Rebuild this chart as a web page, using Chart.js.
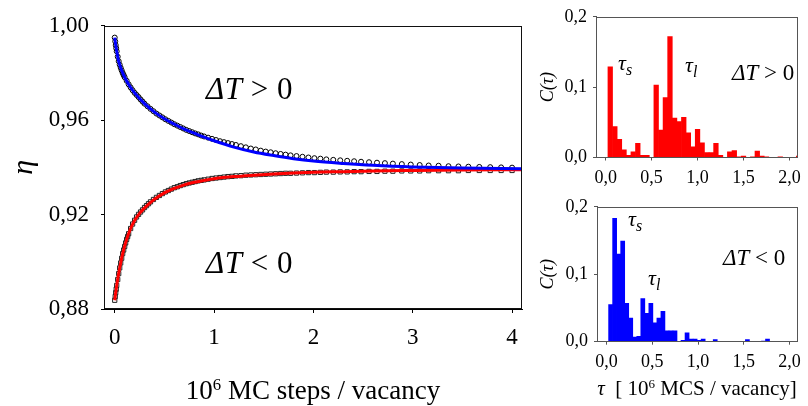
<!DOCTYPE html>
<html>
<head>
<meta charset="utf-8">
<script src="https://cdn.jsdelivr.net/npm/chart.js@4/dist/chart.umd.min.js"></script>
<style>
  body { margin: 0; background: #fff; }
  #wrap { position: relative; width: 808px; height: 406px; overflow: hidden; font-family: 'Liberation Serif', serif; color: #000; }
  canvas { position: absolute; }
  .lbl { position: absolute; white-space: pre; line-height: 1; }
  .sup { font-size: 0.62em; vertical-align: 0.55em; }
  .sub { font-size: 0.72em; vertical-align: -0.3em; font-style: italic; }
</style>
</head>
<body>
<div id="wrap">
  <canvas id="mainChart" width="560" height="406" style="left:0;top:0"></canvas>
  <canvas id="histUp" width="278" height="200" style="left:530px;top:0"></canvas>
  <canvas id="histDown" width="278" height="216" style="left:530px;top:190px"></canvas>

  <div class="lbl" style="left:206px;top:73px;font-size:31px;letter-spacing:0.5px"><i>ΔT</i> &gt; 0</div>
  <div class="lbl" style="left:206px;top:247px;font-size:31px;letter-spacing:0.5px"><i>ΔT</i> &lt; 0</div>
  <div class="lbl" style="left:163px;top:377px;width:300px;text-align:center;font-size:27px">10<span class="sup">6</span> MC steps / vacancy</div>

  <div class="lbl" style="left:618px;top:52px;font-size:22px"><i>τ</i><span class="sub">s</span></div>
  <div class="lbl" style="left:685px;top:54px;font-size:22px"><i>τ</i><span class="sub">l</span></div>
  <div class="lbl" style="left:732px;top:61px;font-size:23px"><i>ΔT</i> &gt; 0</div>

  <div class="lbl" style="left:628px;top:208px;font-size:22px"><i>τ</i><span class="sub">s</span></div>
  <div class="lbl" style="left:648px;top:267px;font-size:22px"><i>τ</i><span class="sub">l</span></div>
  <div class="lbl" style="left:723px;top:246px;font-size:23px"><i>ΔT</i> &lt; 0</div>
  <div class="lbl" style="left:587px;top:377px;width:220px;text-align:center;font-size:21px"><i>τ</i>  [ 10<span class="sup">6</span> MCS / vacancy]</div>
</div>

<script>
// Main panel: order parameter vs MC time
const X_TICKS = [0, 1, 2, 3, 4];
const Y_TICKS = [0.88, 0.92, 0.96, 1.00];

// fit curves
const FIT_X_UP = [0, 0.01, 0.02, 0.035, 0.05, 0.075, 0.1, 0.15, 0.2, 0.3, 0.4, 0.5, 0.6, 0.7, 0.8, 0.9, 1.0, 1.2, 1.4, 1.6, 1.8, 2.0, 2.3, 2.6, 3.0, 3.5, 4.1];
const FIT_UP = [0.9950, 0.9918, 0.9892, 0.9858, 0.9835, 0.9805, 0.9782, 0.9745, 0.9716, 0.9670, 0.9634, 0.9606, 0.9583, 0.9562, 0.9545, 0.9528, 0.9513, 0.9486, 0.9465, 0.9450, 0.9437, 0.9427, 0.9417, 0.9409, 0.9402, 0.9397, 0.9394];

const FIT_X_DOWN = [0, 0.01, 0.02, 0.035, 0.05, 0.08, 0.12, 0.16, 0.2, 0.25, 0.3, 0.35, 0.4, 0.5, 0.6, 0.7, 0.8, 0.9, 1.0, 1.2, 1.4, 1.6, 1.8, 2.0, 2.3, 2.6, 3.0, 3.5, 4.1];
const FIT_DOWN = [0.8837, 0.8870, 0.8900, 0.8940, 0.8974, 0.9035, 0.9095, 0.9141, 0.9175, 0.9205, 0.9228, 0.9248, 0.9265, 0.9292, 0.9311, 0.9326, 0.9337, 0.9345, 0.9352, 0.9361, 0.9367, 0.9372, 0.9376, 0.9379, 0.9382, 0.9385, 0.9387, 0.9389, 0.9390];

// MC data, heating (circles)
const MC_X_UP = [0, 0.005, 0.01, 0.015, 0.02, 0.03, 0.04, 0.05, 0.06, 0.07, 0.08, 0.09, 0.1, 0.12, 0.14, 0.16, 0.18, 0.2, 0.22, 0.24, 0.26, 0.28, 0.3, 0.33, 0.36, 0.39, 0.42, 0.45, 0.48, 0.51, 0.54, 0.57, 0.6, 0.63, 0.66, 0.69, 0.72, 0.75, 0.78, 0.81, 0.84, 0.87, 0.9, 0.94, 0.98, 1.02, 1.06, 1.1, 1.14, 1.18, 1.22, 1.27, 1.32, 1.37, 1.42, 1.47, 1.52, 1.57, 1.62, 1.67, 1.72, 1.77, 1.83, 1.89, 1.95, 2.01, 2.07, 2.13, 2.2, 2.27, 2.34, 2.41, 2.48, 2.56, 2.64, 2.72, 2.8, 2.89, 2.98, 3.07, 3.16, 3.26, 3.36, 3.46, 3.56, 3.67, 3.78, 3.89, 4.0];
const MC_UP = [0.9950, 0.9934, 0.9918, 0.9905, 0.9892, 0.9869, 0.9850, 0.9835, 0.9822, 0.9811, 0.9800, 0.9791, 0.9782, 0.9767, 0.9752, 0.9739, 0.9727, 0.9716, 0.9707, 0.9698, 0.9688, 0.9679, 0.9670, 0.9659, 0.9648, 0.9638, 0.9628, 0.9620, 0.9612, 0.9604, 0.9597, 0.9590, 0.9583, 0.9577, 0.9571, 0.9565, 0.9559, 0.9554, 0.9549, 0.9544, 0.9540, 0.9535, 0.9531, 0.9526, 0.9521, 0.9516, 0.9511, 0.9507, 0.9503, 0.9499, 0.9495, 0.9490, 0.9485, 0.9480, 0.9476, 0.9471, 0.9467, 0.9464, 0.9460, 0.9457, 0.9454, 0.9451, 0.9448, 0.9445, 0.9442, 0.9439, 0.9437, 0.9434, 0.9432, 0.9430, 0.9428, 0.9426, 0.9424, 0.9422, 0.9420, 0.9418, 0.9416, 0.9414, 0.9412, 0.9410, 0.9408, 0.9407, 0.9405, 0.9404, 0.9403, 0.9402, 0.9401, 0.9400, 0.9399];

// MC data, cooling (squares)
const MC_X_DOWN = [0, 0.005, 0.01, 0.015, 0.02, 0.03, 0.04, 0.05, 0.06, 0.07, 0.08, 0.09, 0.1, 0.11, 0.12, 0.13, 0.14, 0.16, 0.18, 0.2, 0.22, 0.24, 0.26, 0.28, 0.3, 0.32, 0.34, 0.36, 0.39, 0.42, 0.45, 0.48, 0.51, 0.54, 0.57, 0.6, 0.63, 0.66, 0.69, 0.72, 0.75, 0.78, 0.81, 0.84, 0.87, 0.9, 0.94, 0.98, 1.02, 1.06, 1.1, 1.14, 1.18, 1.22, 1.27, 1.32, 1.37, 1.42, 1.47, 1.52, 1.57, 1.62, 1.67, 1.72, 1.77, 1.83, 1.89, 1.95, 2.01, 2.07, 2.13, 2.2, 2.27, 2.34, 2.41, 2.48, 2.56, 2.64, 2.72, 2.8, 2.89, 2.98, 3.07, 3.16, 3.26, 3.36, 3.46, 3.56, 3.67, 3.78, 3.89, 4.0];
const MC_DOWN = [0.8837, 0.8853, 0.8869, 0.8884, 0.8900, 0.8925, 0.8950, 0.8974, 0.8995, 0.9015, 0.9035, 0.9050, 0.9065, 0.9080, 0.9095, 0.9107, 0.9119, 0.9141, 0.9160, 0.9176, 0.9190, 0.9201, 0.9211, 0.9220, 0.9230, 0.9238, 0.9246, 0.9254, 0.9264, 0.9273, 0.9281, 0.9289, 0.9296, 0.9302, 0.9308, 0.9314, 0.9318, 0.9323, 0.9327, 0.9331, 0.9334, 0.9337, 0.9340, 0.9343, 0.9345, 0.9347, 0.9350, 0.9353, 0.9355, 0.9357, 0.9359, 0.9361, 0.9362, 0.9364, 0.9365, 0.9367, 0.9368, 0.9369, 0.9370, 0.9371, 0.9372, 0.9373, 0.9374, 0.9375, 0.9375, 0.9376, 0.9377, 0.9378, 0.9378, 0.9379, 0.9380, 0.9380, 0.9381, 0.9381, 0.9382, 0.9382, 0.9383, 0.9383, 0.9384, 0.9384, 0.9385, 0.9385, 0.9385, 0.9386, 0.9386, 0.9386, 0.9386, 0.9387, 0.9387, 0.9387, 0.9387, 0.9387];

// Histograms C(tau)
const TAU_TICKS = [0, 0.5, 1.0, 1.5, 2.0];
const C_TICKS = [0, 0.1, 0.2];

const TAU_UP = [0.05, 0.10, 0.15, 0.20, 0.25, 0.30, 0.35, 0.40, 0.45, 0.50, 0.55, 0.60, 0.65, 0.70, 0.75, 0.80, 0.85, 0.90, 0.95, 1.00, 1.05, 1.10, 1.15, 1.20, 1.25, 1.30, 1.35, 1.40, 1.45, 1.50, 1.55, 1.60, 1.65, 1.70, 1.75, 1.80, 1.85, 1.90, 1.95, 2.00, 2.05, 2.10];
const C_UP = [0.129, 0.044, 0.026, 0.011, 0.003, 0.008, 0.020, 0.003, 0.003, 0, 0.103, 0.039, 0.085, 0.172, 0.056, 0.051, 0.057, 0.035, 0.015, 0.040, 0.021, 0.007, 0.007, 0.020, 0.003, 0, 0.008, 0.010, 0.001, 0.002, 0, 0.001, 0.009, 0.002, 0.001, 0, 0, 0.001, 0, 0, 0, 0.002];

const TAU_DOWN = [0.044, 0.088, 0.132, 0.176, 0.22, 0.264, 0.308, 0.352, 0.396, 0.44, 0.484, 0.528, 0.572, 0.616, 0.66, 0.704, 0.748, 0.792, 0.836, 0.88, 0.924, 0.968, 1.012, 1.056, 1.1, 1.144, 1.188, 1.232, 1.276, 1.32, 1.364, 1.408, 1.452, 1.496, 1.54, 1.584, 1.628, 1.672, 1.716, 1.76];
const C_DOWN = [0.055, 0.183, 0.130, 0.149, 0.057, 0.035, 0.007, 0.008, 0.064, 0.042, 0.057, 0.028, 0.035, 0.045, 0.016, 0.016, 0.016, 0, 0.002, 0.013, 0.004, 0.004, 0.002, 0.004, 0, 0, 0.003, 0, 0, 0, 0, 0, 0, 0, 0.003, 0, 0, 0, 0.001, 0.004];

const FONT = "'Liberation Serif', 'Times New Roman', serif";
const pts = (xs, ys) => xs.map((x, i) => ({ x: x, y: ys[i] }));
const fixedTicks = arr => scale => { scale.ticks = arr.map(v => ({ value: v })); };
const comma = d => v => v.toFixed(d).replace('.', ',');

// box around the plot area
const framePlugin = {
    id: 'frame',
    afterDatasetsDraw(chart, args, opts) {
        const a = chart.chartArea;
        const ctx = chart.ctx;
        ctx.save();
        ctx.strokeStyle = opts.color || '#000';
        ctx.lineWidth = 1;
        ctx.strokeRect(Math.round(a.left) + 0.5, Math.round(a.top) + 0.5,
            Math.round(a.right - a.left) - 1, Math.round(a.bottom - a.top) - 1);
        ctx.restore();
    }
};

Chart.defaults.font.family = FONT;
Chart.defaults.color = '#000';

// 1. main chart
new Chart(document.getElementById('mainChart'), {
    type: 'scatter',
    data: {
        datasets: [
            {
                data: pts(FIT_X_UP, FIT_UP), showLine: true, borderColor: '#0000ff', borderWidth: 3,
                pointRadius: 0, cubicInterpolationMode: 'monotone'
            },
            {
                data: pts(FIT_X_DOWN, FIT_DOWN), showLine: true, borderColor: '#ff0000', borderWidth: 3,
                pointRadius: 0, cubicInterpolationMode: 'monotone'
            },
            {
                data: pts(MC_X_UP, MC_UP), pointStyle: 'circle', pointRadius: 2.5, pointBorderWidth: 1,
                pointBorderColor: '#000', pointBackgroundColor: 'rgba(0,0,0,0)'
            },
            {
                data: pts(MC_X_DOWN, MC_DOWN), pointStyle: 'rect', pointRadius: 3, pointBorderWidth: 1,
                pointBorderColor: '#222', pointBackgroundColor: 'rgba(0,0,0,0)'
            }
        ]
    },
    options: {
        responsive: false,
        animation: false,
        layout: { padding: { left: 0, right: 38, top: 17, bottom: 0 } },
        plugins: { legend: { display: false }, tooltip: { enabled: false }, frame: { color: '#111' } },
        scales: {
            x: {
                type: 'linear', min: -0.108, max: 4.1,
                afterBuildTicks: fixedTicks(X_TICKS),
                afterFit: s => { s.height = 97; },
                border: { display: true, color: '#000' },
                grid: { drawOnChartArea: false, tickLength: 4, color: '#000' },
                ticks: { font: { size: 23 }, padding: 11, maxRotation: 0, callback: v => String(v) }
            },
            y: {
                min: 0.88, max: 1.0,
                afterBuildTicks: fixedTicks(Y_TICKS),
                afterFit: s => { s.width = 104; },
                border: { display: true, color: '#000' },
                grid: { drawOnChartArea: false, tickLength: 3, color: '#000' },
                ticks: { font: { size: 23 }, padding: 12, callback: comma(2) },
                title: { display: true, text: 'η', font: { size: 30, style: 'italic' }, padding: { top: 6 } }
            }
        }
    },
    plugins: [framePlugin]
});

// 2. histograms
function makeHist(id, tau, c, color, pad, yWidth, xHeight) {
    return new Chart(document.getElementById(id), {
        type: 'bar',
        data: {
            datasets: [{
                data: pts(tau, c), backgroundColor: color, borderWidth: 0,
                barPercentage: 1, categoryPercentage: 1, clip: 0
            }]
        },
        options: {
            responsive: false,
            animation: false,
            layout: { padding: pad },
            plugins: { legend: { display: false }, tooltip: { enabled: false }, frame: { color: '#555' } },
            scales: {
                x: {
                    type: 'linear', min: -0.105, max: 2.09, offset: false,
                    afterBuildTicks: fixedTicks(TAU_TICKS),
                    afterFit: s => { s.height = xHeight; },
                    border: { display: true, color: '#555' },
                    grid: { offset: false, drawOnChartArea: false, tickLength: 3, color: '#555' },
                    ticks: { font: { size: 18 }, padding: 7, maxRotation: 0, callback: comma(1) }
                },
                y: {
                    min: 0, max: 0.2,
                    afterBuildTicks: fixedTicks(C_TICKS),
                    afterFit: s => { s.width = yWidth; },
                    border: { display: true, color: '#555' },
                    grid: { drawOnChartArea: false, tickLength: 3, color: '#555' },
                    ticks: { font: { size: 18 }, padding: 6, callback: comma(1) },
                    title: { display: true, text: 'C(τ)', font: { size: 18, style: 'italic' }, padding: { top: 7 } }
                }
            }
        },
        plugins: [framePlugin]
    });
}

makeHist('histUp', TAU_UP, C_UP, '#ff0000', { left: 0, right: 7, top: 15, bottom: 0 }, 66, 42.5);
makeHist('histDown', TAU_DOWN, C_DOWN, '#0000ff', { left: 0, right: 7, top: 9, bottom: 0 }, 67, 64.3);
</script>
</body>
</html>
